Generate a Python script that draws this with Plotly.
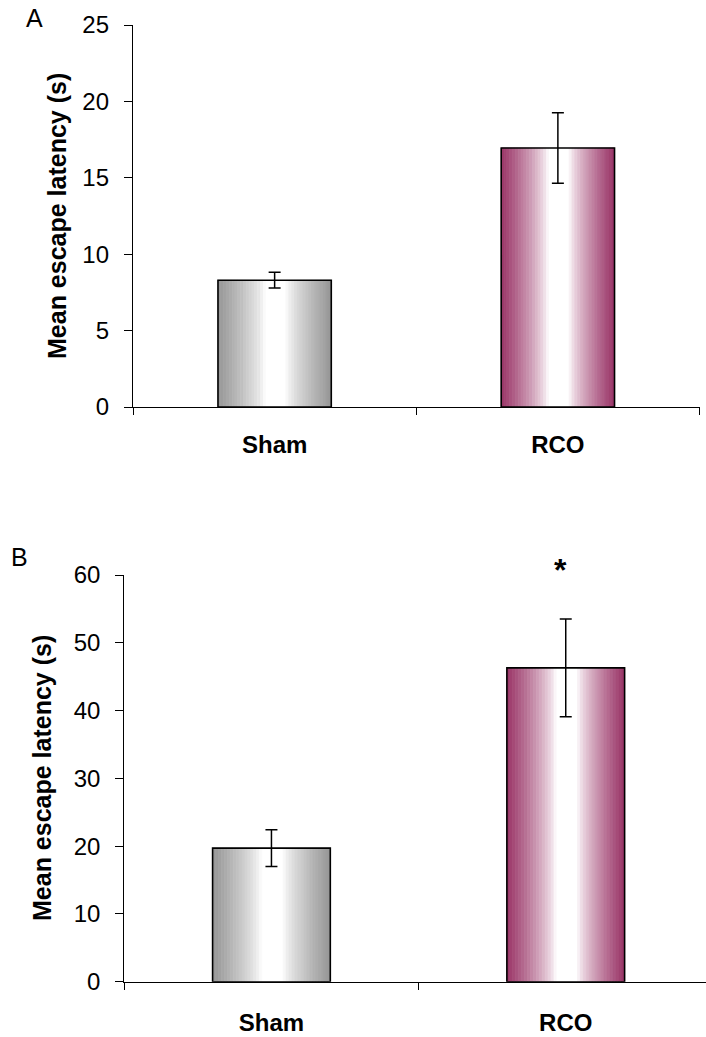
import plotly.graph_objects as go

# ---- data ----
categories = ["Sham", "RCO"]
latency_a = [8.3, 16.95]
se_a = [0.52, 2.3]
latency_b = [19.7, 46.3]
se_b = [2.7, 7.2]
yticks_a = [0, 5, 10, 15, 20, 25]
yticks_b = [0, 10, 20, 30, 40, 50, 60]

W, H = 706, 1037
FONT = "Liberation Sans, Arial, sans-serif"
BAR_W = 0.4
N_STRIPS = 40
edge_colors = [(150, 150, 150), (153, 51, 102)]


def shade(f):
    if f < 0.42:
        s = (0.42 - f) / 0.42
    elif f > 0.6:
        s = (f - 0.6) / 0.4
    else:
        s = 0.0
    return s ** 0.75


def blend(rgb, s):
    r, g, b = (round(255 * (1 - s) + c * s) for c in rgb)
    return f"rgb({r},{g},{b})"


fig = go.Figure()


def add_panel(vals, errs, xa, ya):
    for k in range(N_STRIPS):
        f = (k + 0.5) / N_STRIPS
        s = shade(f)
        cols = [blend(c, s) for c in edge_colors]
        fig.add_bar(x=categories, y=vals, width=BAR_W / N_STRIPS,
                    offset=-BAR_W / 2 + k * BAR_W / N_STRIPS,
                    marker=dict(color=cols, line=dict(color=cols, width=0.8)),
                    xaxis=xa, yaxis=ya, hoverinfo="skip", showlegend=False)
    fig.add_bar(x=categories, y=vals, width=BAR_W,
                marker=dict(color="rgba(0,0,0,0)", line=dict(color="black", width=1.6)),
                error_y=dict(type="data", array=errs, color="black", thickness=1.5, width=6),
                xaxis=xa, yaxis=ya, hoverinfo="skip", showlegend=False)


add_panel(latency_a, se_a, "x", "y")
add_panel(latency_b, se_b, "x2", "y2")

px = lambda x: x / W
py = lambda y: 1 - y / H

xcommon = dict(type="category", tickson="boundaries", ticks="outside", ticklen=7,
               tickcolor="black", tickwidth=1.3, showline=True, linecolor="black",
               linewidth=1.3, showgrid=False, zeroline=False, automargin=False,
               tickfont=dict(family=FONT, size=24, color="black", weight="bold"))
ycommon = dict(ticks="outside", ticklen=8, tickcolor="black", tickwidth=1.3,
               showline=True, linecolor="black", linewidth=1.3, showgrid=False,
               zeroline=False, automargin=False,
               tickfont=dict(family=FONT, size=24, color="black"),
               ticklabelstandoff=10)

ann = lambda **k: dict(xref="paper", yref="paper", showarrow=False,
                       xanchor="center", yanchor="middle", **k)

fig.update_layout(
    width=W, height=H, margin=dict(l=0, r=0, t=0, b=0, pad=0, autoexpand=False),
    paper_bgcolor="white", plot_bgcolor="white", barmode="overlay",
    xaxis=dict(domain=[px(133), px(699.5)], range=[-0.5, 1.5], anchor="y",
               ticklabelstandoff=16, **xcommon),
    yaxis=dict(domain=[py(407), py(25)], range=[0, 25], tickvals=yticks_a,
               anchor="x", **ycommon),
    xaxis2=dict(domain=[px(124.3), 1.0], range=[-0.5, 1.4766], anchor="y2",
                ticklabelstandoff=19, **xcommon),
    yaxis2=dict(domain=[py(981.7), py(575)], range=[0, 60], tickvals=yticks_b,
                anchor="x2", **ycommon),
    annotations=[
        ann(text="A", x=px(34), y=py(17.5),
            font=dict(family=FONT, size=25, color="black")),
        ann(text="B", x=px(19.3), y=py(557),
            font=dict(family=FONT, size=25, color="black")),
        ann(text="Mean escape latency (s)", x=px(57), y=py(216), textangle=-90,
            font=dict(family=FONT, size=25, color="black", weight="bold")),
        ann(text="Mean escape latency (s)", x=px(42), y=py(778), textangle=-90,
            font=dict(family=FONT, size=25, color="black", weight="bold")),
        ann(text="*", x=px(560.7), y=py(570),
            font=dict(family=FONT, size=32, color="black", weight="bold")),
    ],
)

fig.write_html("out.html")
